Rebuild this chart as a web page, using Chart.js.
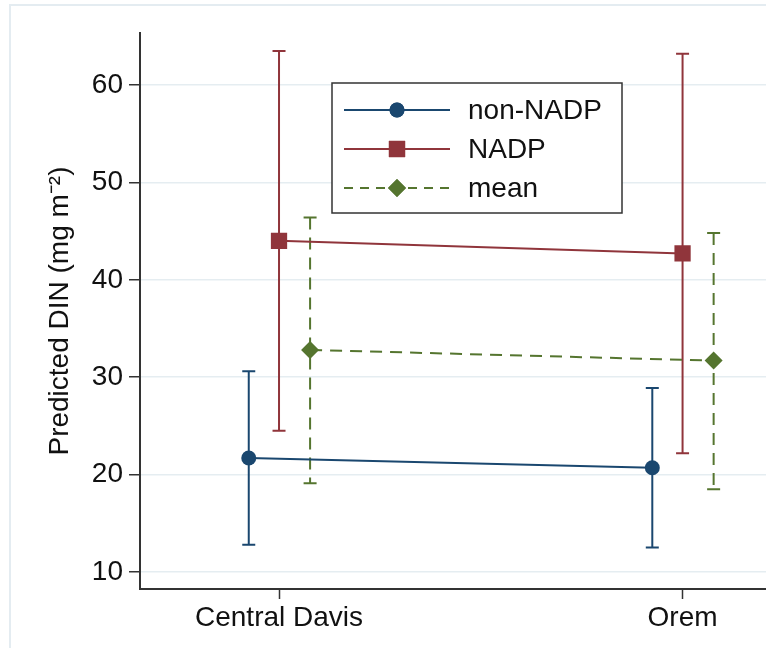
<!DOCTYPE html>
<html>
<head>
<meta charset="utf-8">
<script src="https://cdn.jsdelivr.net/npm/chart.js@4.4.1/dist/chart.umd.min.js"></script>
<style>
  html, body { margin: 0; padding: 0; background: #ffffff; overflow: hidden; }
  #wrap { position: relative; width: 766px; height: 648px; overflow: hidden; }
  #frame { position: absolute; left: 9px; top: 4px; width: 900px; height: 800px;
           border-left: 2px solid #e4ecf1; border-top: 2px solid #e4ecf1; }
  canvas { position: absolute; left: 0; top: 0; }
</style>
</head>
<body>
<div id="wrap">
  <div id="frame"></div>
  <canvas id="c" width="778" height="648"></canvas>
</div>
<script>
// ---- data ----
const categories = ['Central Davis', 'Orem'];
const nonNadp     = [21.7, 20.7];
const nonNadpLow  = [12.8, 12.5];
const nonNadpHigh = [30.6, 28.9];
const nadp        = [44.0, 42.7];
const nadpLow     = [24.5, 22.2];
const nadpHigh    = [63.5, 63.2];
const meanVals    = [32.8, 31.7];
const meanLow     = [19.1, 18.5];
const meanHigh    = [46.4, 44.8];
const yTicks      = [10, 20, 30, 40, 50, 60];
const yTitle      = 'Predicted DIN (mg m\u207B\u00B2)';

// ---- styles ----
const FONT = '"Liberation Sans", Arial, Helvetica, sans-serif';
const NAVY = '#1a476f', MAROON = '#90353b', GREEN = '#55752f';
const offsets = { nonNadp: -0.075, nadp: 0, mean: 0.077 };

function pts(vals, off) {
  return vals.map((v, i) => ({ x: i + 1 + off, y: v }));
}

const datasets = [
  { label: 'non-NADP', data: pts(nonNadp, offsets.nonNadp), low: nonNadpLow, high: nonNadpHigh,
    borderColor: NAVY, backgroundColor: NAVY, borderWidth: 2, pointStyle: 'circle',
    pointRadius: 7.5, pointBorderWidth: 0, borderDash: [] },
  { label: 'NADP', data: pts(nadp, offsets.nadp), low: nadpLow, high: nadpHigh,
    borderColor: MAROON, backgroundColor: MAROON, borderWidth: 2, pointStyle: 'rect',
    pointRadius: 11.5, pointBorderWidth: 0, borderDash: [] },
  { label: 'mean', data: pts(meanVals, offsets.mean), low: meanLow, high: meanHigh,
    borderColor: GREEN, backgroundColor: GREEN, borderWidth: 2, pointStyle: 'rectRot',
    pointRadius: 9, pointBorderWidth: 0, borderDash: [12, 8] }
];

const errorBars = {
  id: 'errorBars',
  beforeDatasetsDraw(chart) {
    const ctx = chart.ctx, ys = chart.scales.y;
    chart.data.datasets.forEach((ds, di) => {
      const meta = chart.getDatasetMeta(di);
      ctx.save();
      ctx.strokeStyle = ds.borderColor;
      ctx.lineWidth = 2;
      meta.data.forEach((pt, j) => {
        const x = pt.x;
        const yl = ys.getPixelForValue(ds.low[j]);
        const yh = ys.getPixelForValue(ds.high[j]);
        ctx.setLineDash(ds.borderDash || []);
        ctx.beginPath(); ctx.moveTo(x, yh); ctx.lineTo(x, yl); ctx.stroke();
        ctx.setLineDash([]);
        ctx.beginPath();
        ctx.moveTo(x - 6.5, yl); ctx.lineTo(x + 6.5, yl);
        ctx.moveTo(x - 6.5, yh); ctx.lineTo(x + 6.5, yh);
        ctx.stroke();
      });
      ctx.restore();
    });
  }
};

const boxLegend = {
  id: 'boxLegend',
  afterDraw(chart) {
    const ctx = chart.ctx;
    const bx = 332, by = 83, bw = 290, bh = 130;
    ctx.save();
    ctx.fillStyle = '#ffffff';
    ctx.fillRect(bx, by, bw, bh);
    ctx.strokeStyle = '#333333';
    ctx.lineWidth = 1.5;
    ctx.strokeRect(bx, by, bw, bh);
    chart.data.datasets.forEach((ds, i) => {
      const cy = 110 + i * 39;
      ctx.strokeStyle = ds.borderColor;
      ctx.lineWidth = 2;
      ctx.setLineDash(ds.borderDash && ds.borderDash.length ? [9, 7] : []);
      ctx.beginPath(); ctx.moveTo(344, cy); ctx.lineTo(450, cy); ctx.stroke();
      ctx.setLineDash([]);
      ctx.fillStyle = ds.backgroundColor;
      Chart.helpers.drawPoint(ctx, { pointStyle: ds.pointStyle, radius: ds.pointRadius, rotation: 0, borderWidth: 0 }, 397, cy);
      ctx.fill();
      ctx.fillStyle = '#111111';
      ctx.font = '28px ' + FONT;
      ctx.textBaseline = 'middle';
      ctx.textAlign = 'left';
      ctx.fillText(ds.label, 468, cy + 1);
    });
    ctx.restore();
  }
};

new Chart(document.getElementById('c'), {
  type: 'line',
  data: { datasets },
  plugins: [errorBars, boxLegend],
  options: {
    responsive: false,
    animation: false,
    layout: { padding: { top: 33, right: 0, bottom: 0, left: 0 } },
    plugins: { legend: { display: false }, tooltip: { enabled: false } },
    elements: { line: { tension: 0 } },
    scales: {
      x: {
        type: 'linear', min: 0.6555, max: 2.208,
        afterBuildTicks(s) { s.ticks = categories.map((c, i) => ({ value: i + 1 })); },
        afterFit(s) { s.height = 59; },
        ticks: {
          callback: (v) => categories[Math.round(v) - 1],
          font: { family: FONT, size: 28 }, color: '#111111', padding: 2, maxRotation: 0
        },
        grid: { drawOnChartArea: false, drawTicks: true, tickLength: 10, tickColor: '#333333', tickWidth: 1.5 },
        border: { color: '#333333', width: 2 }
      },
      y: {
        type: 'linear', min: 8.25, max: 65.34,
        afterBuildTicks(s) { s.ticks = yTicks.map(v => ({ value: v })); },
        afterFit(s) { s.width = 140; },
        ticks: { font: { family: FONT, size: 28 }, color: '#111111', padding: 6 },
        grid: { color: '#e5edf1', lineWidth: 1.5, drawTicks: true, tickLength: 11, tickColor: '#333333', tickWidth: 1.5 },
        border: { color: '#333333', width: 2 },
        title: { display: true, text: yTitle, font: { family: FONT, size: 28 }, color: '#111111',
                 padding: { top: 43, bottom: 0 } }
      }
    }
  }
});
</script>
</body>
</html>
